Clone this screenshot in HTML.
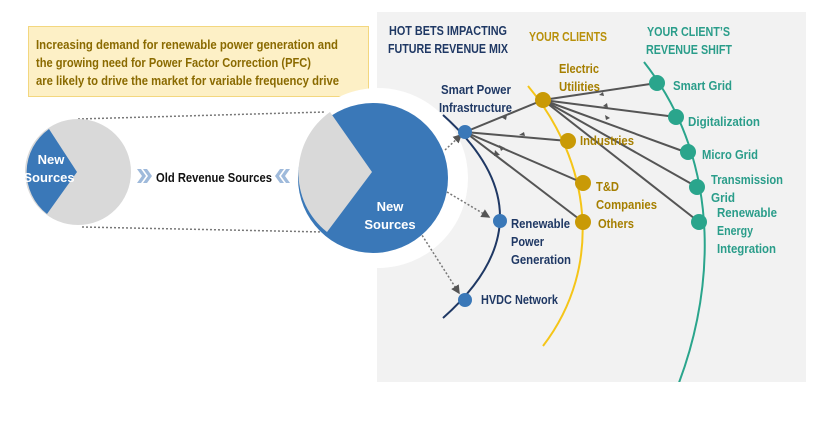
<!DOCTYPE html>
<html><head><meta charset="utf-8"><style>
html,body{margin:0;padding:0;background:#fff;}
svg{display:block;}
text{font-family:"Liberation Sans",sans-serif;font-weight:bold;font-size:13px;}
</style></head><body>
<svg width="824" height="429" viewBox="0 0 824 429" xmlns="http://www.w3.org/2000/svg">
<defs>
<clipPath id="pc"><rect x="377" y="12" width="429" height="370"/></clipPath>
<marker id="ah" markerWidth="6" markerHeight="6" refX="5" refY="3" orient="auto"><path d="M0,0 L6,3 L0,6 Z" fill="#555"/></marker>
</defs>
<rect x="377" y="12" width="429" height="370" fill="#f2f2f2"/>
<rect x="28.5" y="26.5" width="340" height="70" fill="#fdf0c6" stroke="#f3d77f"/>
<text x="36" y="49" fill="#8a6a00" textLength="302" lengthAdjust="spacingAndGlyphs">Increasing demand for renewable power generation and</text>
<text x="36" y="67" fill="#8a6a00" textLength="275" lengthAdjust="spacingAndGlyphs">the growing need for Power Factor Correction (PFC)</text>
<text x="36" y="85" fill="#8a6a00" textLength="303" lengthAdjust="spacingAndGlyphs">are likely to drive the market for variable frequency drive</text>
<circle cx="378" cy="178" r="90" fill="#fff"/>
<g stroke="#777" stroke-width="1.5" stroke-dasharray="2,2" fill="none">
<line x1="78" y1="119" x2="325" y2="112"/>
<line x1="82" y1="227" x2="325" y2="232"/>
<line x1="445" y1="150" x2="461" y2="135" marker-end="url(#ah)"/>
<line x1="447" y1="192" x2="489" y2="217" marker-end="url(#ah)"/>
<line x1="420" y1="232" x2="459" y2="293" marker-end="url(#ah)"/>
</g>
<circle cx="78" cy="172" r="53" fill="#d9d9d9"/>
<path d="M49,129 L77,172 L47,214 A53,53 0 0 1 49,129 Z" fill="#3a78b8"/>
<text x="51" y="164" fill="#fff" text-anchor="middle">New</text>
<text x="49" y="182" fill="#fff" text-anchor="middle">Sources</text>
<circle cx="373" cy="178" r="75" fill="#3a78b8"/>
<path d="M330,112 L372,172 L327,232 A75,75 0 0 1 330,112 Z" fill="#d9d9d9"/>
<text x="390" y="211" fill="#fff" text-anchor="middle">New</text>
<text x="390" y="229" fill="#fff" text-anchor="middle">Sources</text>
<g fill="#9fbadb">
<path d="M137,169 h4 l5,7 l-5,7 h-4 l5,-7z"/><path d="M143,169 h4 l5,7 l-5,7 h-4 l5,-7z"/>
<path d="M290,169 h-4 l-5,7 l5,7 h4 l-5,-7z"/><path d="M284,169 h-4 l-5,7 l5,7 h4 l-5,-7z"/>
</g>
<text x="156" y="182" fill="#111" textLength="116" lengthAdjust="spacingAndGlyphs">Old Revenue Sources</text>
<g clip-path="url(#pc)" fill="none" stroke-width="2">
<path d="M443,115 Q557,217 443,318" stroke="#1f3864"/>
<path d="M528,86 C590,160 605,265 543,346" stroke="#f5c518"/>
<path d="M644,62 C725,165 715,300 672,400" stroke="#2aa58c"/>
</g>
<g stroke="#555" stroke-width="2">
<line x1="543" y1="100" x2="465" y2="132"/>
<line x1="568" y1="141" x2="465" y2="132"/>
<line x1="583" y1="183" x2="465" y2="132"/>
<line x1="583" y1="222" x2="465" y2="132"/>
<line x1="657" y1="83" x2="543" y2="100"/>
<line x1="676" y1="117" x2="543" y2="100"/>
<line x1="688" y1="153" x2="543" y2="100"/>
<line x1="697" y1="187" x2="543" y2="100"/>
<line x1="699" y1="222" x2="543" y2="100"/>
</g>
<g fill="#555">
<path d="M507,115 l-6,2 l5,3z"/><path d="M525,136 l-6,-1 l5,-3z"/><path d="M505,148 l-6,-3 l2,6z"/>
<path d="M500,155 l-5,-5 l-1,6z"/><path d="M604,96 l-5,-1 l4,-3z"/><path d="M608,108 l-5,-2 l4,-3z"/>
<path d="M610,118 l-5,-3 l1,5z"/>
</g>
<g fill="#3a78b8"><circle cx="465" cy="132" r="7"/><circle cx="500" cy="221" r="7"/><circle cx="465" cy="300" r="7"/></g>
<g fill="#c99a06"><circle cx="543" cy="100" r="8"/><circle cx="568" cy="141" r="8"/><circle cx="583" cy="183" r="8"/><circle cx="583" cy="222" r="8"/></g>
<g fill="#2aa58c"><circle cx="657" cy="83" r="8"/><circle cx="676" cy="117" r="8"/><circle cx="688" cy="152" r="8"/><circle cx="697" cy="187" r="8"/><circle cx="699" cy="222" r="8"/></g>
<g fill="#1f3864">
<text x="389" y="35" textLength="118" lengthAdjust="spacingAndGlyphs">HOT BETS IMPACTING</text>
<text x="388" y="53" textLength="120" lengthAdjust="spacingAndGlyphs">FUTURE REVENUE MIX</text>
<text x="441" y="94" textLength="70" lengthAdjust="spacingAndGlyphs">Smart Power</text>
<text x="439" y="112" textLength="73" lengthAdjust="spacingAndGlyphs">Infrastructure</text>
<text x="511" y="228" textLength="59" lengthAdjust="spacingAndGlyphs">Renewable</text>
<text x="511" y="246" textLength="33" lengthAdjust="spacingAndGlyphs">Power</text>
<text x="511" y="264" textLength="60" lengthAdjust="spacingAndGlyphs">Generation</text>
<text x="481" y="304" textLength="77" lengthAdjust="spacingAndGlyphs">HVDC Network</text>
</g>
<g fill="#a67f00">
<text x="529" y="41" fill="#b8900a" textLength="78" lengthAdjust="spacingAndGlyphs">YOUR CLIENTS</text>
<text x="559" y="73" textLength="40" lengthAdjust="spacingAndGlyphs">Electric</text>
<text x="559" y="91" textLength="41" lengthAdjust="spacingAndGlyphs">Utilities</text>
<text x="580" y="145" textLength="54" lengthAdjust="spacingAndGlyphs">Industries</text>
<text x="596" y="191" textLength="23" lengthAdjust="spacingAndGlyphs">T&amp;D</text>
<text x="596" y="209" textLength="61" lengthAdjust="spacingAndGlyphs">Companies</text>
<text x="598" y="228" textLength="36" lengthAdjust="spacingAndGlyphs">Others</text>
</g>
<g fill="#2a9d8a">
<text x="647" y="36" textLength="83" lengthAdjust="spacingAndGlyphs">YOUR CLIENT’S</text>
<text x="646" y="54" textLength="86" lengthAdjust="spacingAndGlyphs">REVENUE SHIFT</text>
<text x="673" y="90" textLength="59" lengthAdjust="spacingAndGlyphs">Smart Grid</text>
<text x="688" y="126" textLength="72" lengthAdjust="spacingAndGlyphs">Digitalization</text>
<text x="702" y="159" textLength="56" lengthAdjust="spacingAndGlyphs">Micro Grid</text>
<text x="711" y="184" textLength="72" lengthAdjust="spacingAndGlyphs">Transmission</text>
<text x="711" y="202" textLength="24" lengthAdjust="spacingAndGlyphs">Grid</text>
<text x="717" y="217" textLength="60" lengthAdjust="spacingAndGlyphs">Renewable</text>
<text x="717" y="235" textLength="36" lengthAdjust="spacingAndGlyphs">Energy</text>
<text x="717" y="253" textLength="59" lengthAdjust="spacingAndGlyphs">Integration</text>
</g>
</svg>
</body></html>
